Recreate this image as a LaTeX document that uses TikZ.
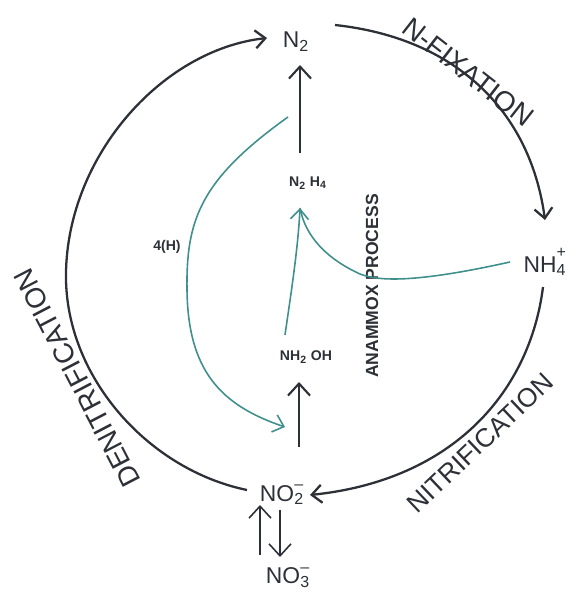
\documentclass[tikz,border=0pt]{standalone}
\usepackage{fontspec}
\setmainfont{Liberation Sans}
\usetikzlibrary{arrows.meta, calc}

\definecolor{ink}{HTML}{2E3038}
\definecolor{pathteal}{HTML}{3F8F8C}

\begin{document}
\begin{tikzpicture}[
    x=0.02cm, y=-0.02cm,
    species/.style={text=ink, inner sep=1pt, font=\fontsize{13}{15}\selectfont},
    small/.style={text=ink, inner sep=1pt, font=\bfseries\fontsize{8}{9}\selectfont},
    process/.style={text=ink, inner sep=0pt},
    cycle/.style={ink, line width=1.3pt},
    stepline/.style={ink, line width=1.2pt, -{Straight Barb[length=2.4mm, width=4.4mm]}},
    route/.style={pathteal, line width=0.9pt},
    arrow/.style={-{Straight Barb[length=2mm, width=3.6mm]}}
]
  \useasboundingbox (0,0) rectangle (574,594);

  \node[species] (n2) at (296,42) {N\textsubscript{2}};
  \node[species] (nh4) at (545,262) {NH\rlap{\raisebox{0.6ex}{\textsuperscript{+}}}\textsubscript{4}};
  \node[species] (no2) at (282,495) {NO\rlap{\raisebox{0.3ex}{\textsuperscript{--}}}\textsubscript{2}};
  \node[species] (no3) at (288,578) {NO\rlap{\raisebox{0.3ex}{\textsuperscript{--}}}\textsubscript{3}};
  \node[small] (n2h4) at (308,183) {N\textsubscript{2} H\textsubscript{4}};
  \node[small] (nh2oh) at (306,357) {NH\textsubscript{2} OH};
  \node[small] (h4) at (167,247) {4(H)};

  \node[process, rotate=-38, font=\fontsize{16}{18}\selectfont] (nfix) at (468,72) {N-FIXATION};
  \node[process, rotate=43.5, font=\fontsize{15}{17}\selectfont] (nitr) at (480,443) {NITRIFICATION};
  \node[process, rotate=117.5, font=\fontsize{16}{18}\selectfont] (denit) at (77,378) {DENITRIFICATION};
  \node[process, rotate=90, font=\bfseries\fontsize{10}{12}\selectfont] (anam) at (372,286) {ANAMMOX PROCESS};

  \draw[cycle, arrow] ($(n2)+(39,-17)$) .. controls (455,38) and (530,110) .. ($(nh4)+(0,-42)$);
  \draw[cycle, arrow] ($(nh4)+(-2,25)$) .. controls (530,390) and (455,480) .. ($(no2)+(28,0)$);
  \draw[cycle, arrow] ($(no2)+(-35,-5)$) .. controls (150,470) and (68,380) .. (66,280)
    .. controls (64,160) and (160,50) .. ($(n2)+(-29,-4)$);

  \draw[stepline] ($(n2h4)+(-8,-30)$) -- ($(n2)+(4,23)$);
  \draw[stepline] ($(no2)+(17,-48)$) -- ($(nh2oh)+(-7,25)$);
  \draw[stepline, line width=0.9pt] ($(no3)+(-28,-23)$) -- ($(no2)+(-22,10)$);
  \draw[stepline, line width=0.9pt] ($(no2)+(-2,15)$) -- ($(no3)+(-8,-21)$);

  \draw[route, arrow] ($(nh2oh)+(-21,-22)$) .. controls (290,300) and (298,250) .. ($(n2h4)+(-8,25)$);
  \draw[route] ($(nh4)+(-35,0)$) .. controls (420,282) and (380,282) .. (360,274)
    .. controls (325,258) and (305,235) .. ($(n2h4)+(-8,25)$);
  \draw[route, arrow] ($(n2)+(-8,75)$) .. controls (200,180) and (186,220) .. (187,290)
    .. controls (188,370) and (220,405) .. ($(no2)+(3,-68)$);
\end{tikzpicture}
\end{document}
